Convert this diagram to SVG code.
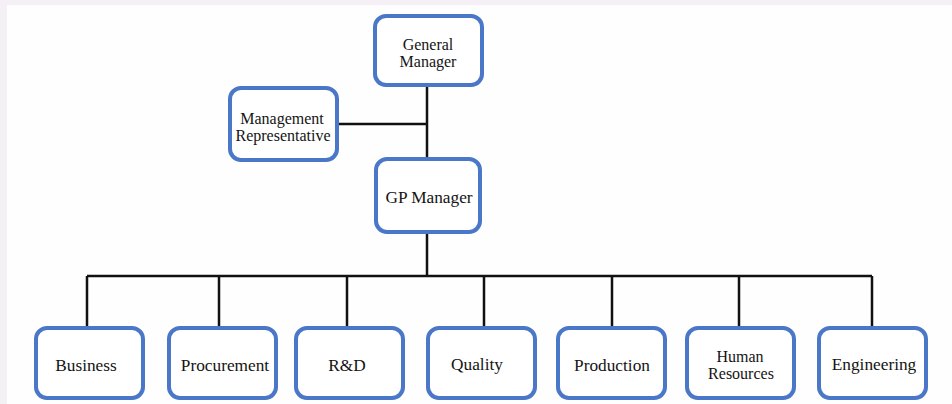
<svg xmlns="http://www.w3.org/2000/svg" width="952" height="404" viewBox="0 0 952 404">
<style>
.box{fill:#ffffff;stroke:#4a77c8;stroke-width:4}
.t{font-family:"Liberation Serif","Times New Roman",serif;font-size:17.3px;fill:#141414;text-anchor:middle}
.t2{font-size:16px}
.c{stroke:#111111;stroke-width:2.5;fill:none}
</style>
<rect x="0" y="0" width="952" height="404" fill="#f5f0f5"/>
<rect x="7" y="5" width="945" height="399" fill="#fefefe"/>
<g id="connectors">
<path class="c" d="M427 85V232M337 124H427M427 232V276M87 276H872M87 276V328M219 276V328M347 276V328M484 276V328M612 276V328M739 276V328M872 276V328"/>
</g>
<g id="general-manager"><rect class="box" x="375" y="16" width="107" height="69" rx="11"/><text class="t t2" x="428" y="50">General</text><text class="t t2" x="428" y="67">Manager</text></g>
<g id="management-representative"><rect class="box" x="230" y="88" width="107" height="72" rx="11"/><text class="t t2" x="282" y="124">Management</text><text class="t t2" x="283" y="141">Representative</text></g>
<g id="gp-manager"><rect class="box" x="376" y="159" width="104" height="73" rx="11"/><text class="t" x="429" y="203">GP Manager</text></g>
<g id="business"><rect class="box" x="36" y="328" width="107" height="70" rx="11"/><text class="t" x="86" y="371">Business</text></g>
<g id="procurement"><rect class="box" x="169" y="328" width="107" height="70" rx="11"/><text class="t" x="225" y="371">Procurement</text></g>
<g id="rd"><rect class="box" x="296" y="328" width="107" height="70" rx="11"/><text class="t" x="347" y="371">R&amp;D</text></g>
<g id="quality"><rect class="box" x="428" y="328" width="107" height="70" rx="11"/><text class="t" x="477" y="370">Quality</text></g>
<g id="production"><rect class="box" x="558" y="328" width="107" height="70" rx="11"/><text class="t" x="612" y="371">Production</text></g>
<g id="human-resources"><rect class="box" x="687" y="328" width="107" height="70" rx="11"/><text class="t t2" x="740" y="362">Human</text><text class="t t2" x="741" y="379">Resources</text></g>
<g id="engineering"><rect class="box" x="819" y="328" width="107" height="70" rx="11"/><text class="t" x="874" y="370">Engineering</text></g>
</svg>
